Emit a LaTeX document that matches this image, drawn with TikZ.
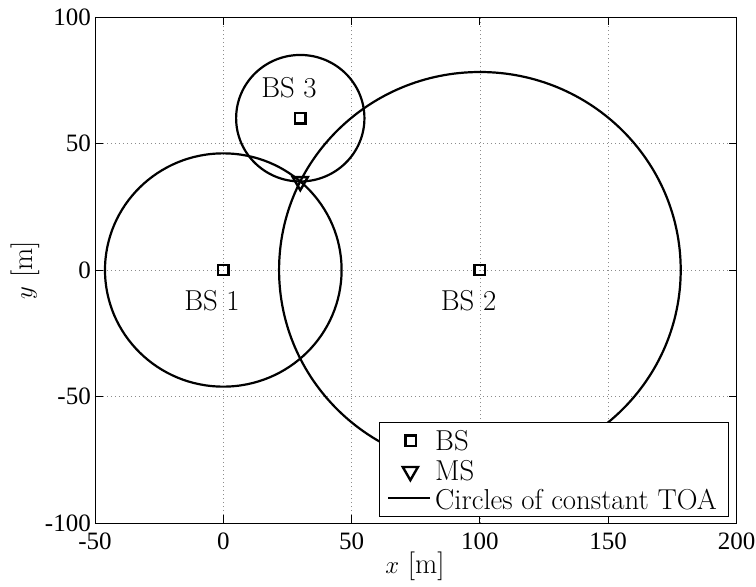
\documentclass[tikz,border=0pt]{standalone}
\usepackage{fontspec}
\newfontfamily\tickfont{Liberation Serif}
\usetikzlibrary{shapes.geometric}
\begin{document}
\begin{tikzpicture}[x=2.566pt,y=2.53pt,
  axisline/.style={line width=0.8pt, black},
  gridline/.style={black!45, line width=0.6pt, dash pattern=on 0.8pt off 3.2pt},
  toa/.style={line width=2.2pt, black},
  bsmarker/.style={draw, line width=2.4pt, minimum size=10.4pt, inner sep=0pt, outer sep=0pt},
  msmarker/.style={draw, regular polygon, regular polygon sides=3, shape border rotate=180,
                   line width=2.4pt, minimum size=17.5pt, inner sep=0pt, outer sep=0pt},
  lbl/.style={font=\fontsize{28.8}{33}\selectfont, inner sep=0pt},
  ticklbl/.style={font=\tickfont\fontsize{25}{29}\selectfont, inner sep=0pt}
]
\useasboundingbox (-87.02,-124.9) rectangle (207.6,106.72);
% grid
\foreach \gx in {0,50,100,150} \draw[gridline] (\gx,-100) -- (\gx,100);
\foreach \gy in {-50,0,50} \draw[gridline] (-50,\gy) -- (200,\gy);
% base stations and mobile station
\node[bsmarker] (bs1) at (0,0) {};
\node[bsmarker] (bs2) at (100,0) {};
\node[bsmarker] (bs3) at (30,60) {};
\node[msmarker] (ms) at (30,35) {};
% circles of constant TOA
\draw[toa] (bs1.center) circle[radius=46.1];
\draw[toa] (bs2.center) circle[radius=78.26];
\draw[toa] (bs3.center) circle[radius=25];
% station labels
\node[lbl] (l1) at (-4.4,-12.3) {BS 1};
\node[lbl] (l2) at (95.6,-12.3) {BS 2};
\node[lbl] (l3) at (25.6,71.9) {BS 3};
% ticks
\foreach \tx in {-50,0,50,100,150,200} {
  \draw[axisline] (\tx,-100) -- ++(0,8pt);
  \draw[axisline] (\tx,100) -- ++(0,-8pt);
  \node[ticklbl, anchor=north] at ([yshift=-10pt]\tx,-100) {\tx};
}
\foreach \ty in {-100,-50,0,50,100} {
  \draw[axisline] (-50,\ty) -- ++(8pt,0);
  \draw[axisline] (200,\ty) -- ++(-8pt,0);
  \node[ticklbl, anchor=east] at ([xshift=-4pt]-50,\ty) {\ty};
}
\draw[axisline] (-50,-100) rectangle (200,100);
% axis labels
\node[lbl] (xl) at (74.7,-117.0) {$x$ [m]};
\node[lbl, rotate=90] (yl) at (-77.3,0) {$y$ [m]};
% legend
\node[draw, fill=white, line width=0.8pt, minimum width=349.3pt, minimum height=94pt,
      inner sep=0pt, anchor=north west] (legbox) at (60.7,-59.96) {};
\node[bsmarker] (legbs) at (73.1,-67.5) {};
\node[lbl, anchor=west] (legbst) at (82.5,-67.6) {BS};
\node[msmarker] (legms) at (72.9,-79.6) {};
\node[lbl, anchor=west] (legmst) at (82.5,-79.4) {MS};
\coordinate (lla) at (64.3,-90.2);
\coordinate (llb) at (80.6,-90.2);
\draw[toa] (lla) -- (llb);
\node[lbl, anchor=west] (legct) at (82.5,-90.9) {Circles of constant TOA};
\end{tikzpicture}
\end{document}
